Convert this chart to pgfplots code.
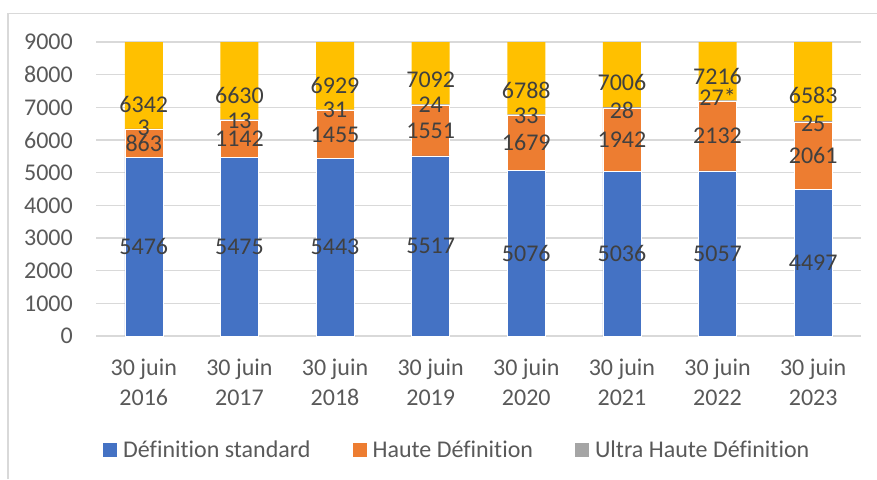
\documentclass[border=0pt]{standalone}
\usepackage{pgfplots}
\pgfplotsset{compat=1.18}
\usepackage{fontspec}
\setmainfont{Carlito}[Ligatures=NoCommon]
\definecolor{cblue}{HTML}{4472C4}
\definecolor{corange}{HTML}{ED7D31}
\definecolor{cgray}{HTML}{A5A5A5}
\definecolor{cyellow}{HTML}{FFC000}
\definecolor{gridc}{HTML}{D9D9D9}
\definecolor{tickc}{HTML}{595959}
\definecolor{labc}{HTML}{404040}
\pgfplotsset{common/.style={
  at={(96pt,-336pt)}, anchor=south west,
  scale only axis, width=765pt, height=294pt,
  xmin=-0.5, xmax=7.5, ymin=0, ymax=9000}}
\begin{document}
\begin{tikzpicture}[x=1pt,y=1pt]
\path[use as bounding box] (0,0) rectangle (877,-479);
\draw[gridc, line width=1.5pt] (8,-479) -- (8,-13.5) -- (877,-13.5);
\begin{axis}[
  common,
  ybar stacked, bar width=38pt,
  ytick={0,1000,...,9000},
  xtick={0,...,7},
  xticklabels={{30 juin\\2016},{30 juin\\2017},{30 juin\\2018},{30 juin\\2019},{30 juin\\2020},{30 juin\\2021},{30 juin\\2022},{30 juin\\2023}},
  font=\fontsize{24}{30}\selectfont,
  xticklabel style={align=center, anchor=north, inner sep=0pt, yshift=-23pt, text=tickc},
  yticklabel style={anchor=east, inner sep=0pt, xshift=-23pt, text=tickc},
  /pgf/number format/assume math mode=true,
  /pgf/number format/1000 sep={},
  ymajorgrids, grid style={line width=1.5pt, gridc},
  axis line style={draw=none},
  major tick length=0pt, tick style={draw=none},
  legend columns=3,
  legend style={draw=none, fill=none, inner sep=0pt,
    at={(axis description cs:0.00915,-0.3878)}, anchor=west,
    nodes={inner sep=0pt, text=tickc, font=\fontsize{24}{28}\selectfont},
    /tikz/every odd column/.append style={column sep=6pt},
    /tikz/every even column/.append style={column sep=42pt}},
  legend image code/.code={\fill[#1, draw=none] (0pt,-7pt) rectangle (14pt,7pt);},
]
\addplot[fill=cblue, draw=white, line width=0.4pt] coordinates {(0,5476) (1,5475) (2,5443) (3,5517) (4,5076) (5,5036) (6,5057) (7,4497)};
\addlegendentry{Définition standard}
\addplot[fill=corange, draw=white, line width=0.4pt] coordinates {(0,863) (1,1142) (2,1455) (3,1551) (4,1679) (5,1942) (6,2132) (7,2061)};
\addlegendentry{Haute Définition}
\addplot[fill=cgray, draw=none] coordinates {(0,3) (1,13) (2,31) (3,24) (4,33) (5,28) (6,27) (7,25)};
\addlegendentry{Ultra Haute Définition}
\addplot[fill=cyellow, draw=none, forget plot] coordinates {(0,6342) (1,6630) (2,6929) (3,7092) (4,6788) (5,7006) (6,7216) (7,6583)};
\end{axis}
\begin{axis}[common, hide axis,
  nodes near coords, point meta=explicit symbolic,
  nodes near coords style={anchor=center, inner sep=0pt, text=labc, font=\fontsize{24}{28}\selectfont}]
\addplot[only marks, mark=none, draw=none] coordinates {
 (0,2738)[5476] (1,2738)[5475] (2,2722)[5443] (3,2759)[5517]
 (4,2538)[5076] (5,2518)[5036] (6,2529)[5057] (7,2249)[4497]
 (0,5908)[863] (1,6046)[1142] (2,6171)[1455] (3,6293)[1551]
 (4,5916)[1679] (5,6007)[1942] (6,6123)[2132] (7,5528)[2061]
 (0,6377)[3] (1,6591)[13] (2,6918)[31] (3,7071)[24]
 (4,6735)[33] (5,6918)[28] (6,7326)[27*] (7,6481)[25]
 (0,7093)[6342] (1,7357)[6630] (2,7684)[6929] (3,7837)[7092]
 (4,7531)[6788] (5,7766)[7006] (6,7939)[7216] (7,7357)[6583]
};
\end{axis}
\end{tikzpicture}
\end{document}
